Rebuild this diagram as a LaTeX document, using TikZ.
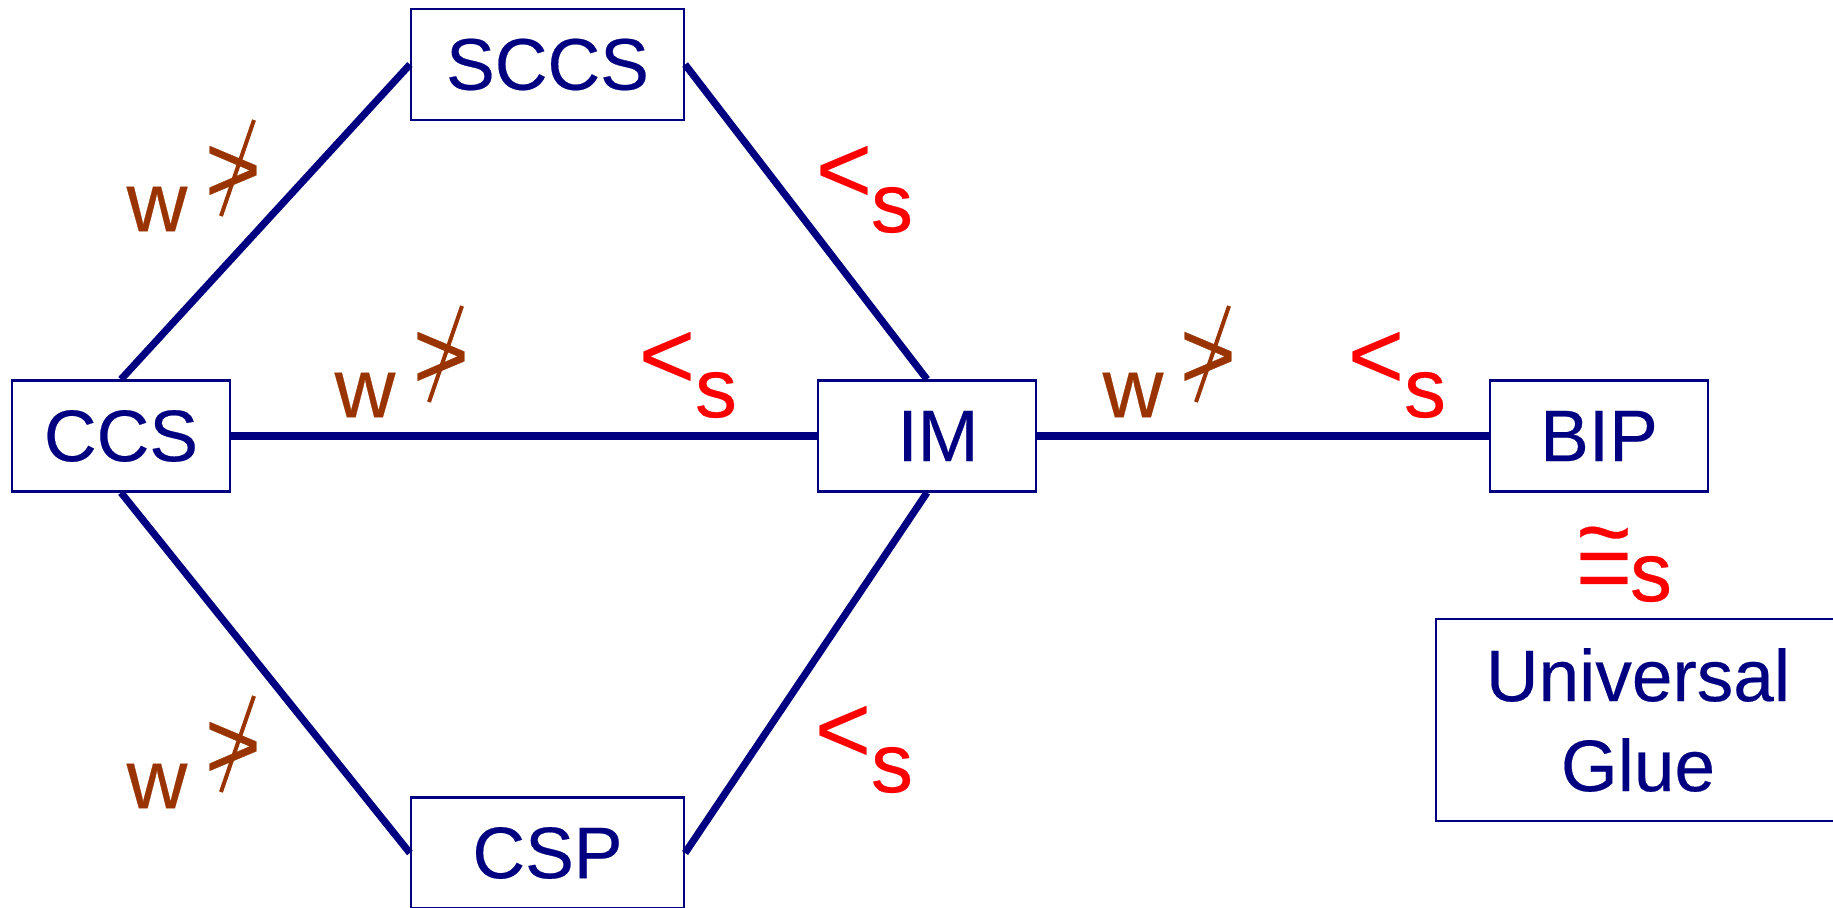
\documentclass[tikz,border=0pt]{standalone}
\usepackage{fontspec}
\setmainfont{Liberation Sans}[FakeBold=0.3]
\definecolor{navy}{RGB}{0,0,128}
\definecolor{rust}{RGB}{153,51,0}

\begin{document}
\begin{tikzpicture}[x=0.5pt, y=-0.5pt,
    box/.style={draw=navy, line width=1.1pt, text=navy, inner sep=0pt, minimum height=55.5pt,
        font=\fontsize{36.5}{45}\selectfont},
    link/.style={navy, line width=3.6pt},
    letter/.style={inner sep=0pt, font=\fontsize{42}{48}\selectfont},
    rel/.style={inner sep=0pt, font=\fontsize{48}{54}\selectfont},
    cross/.style={rust, line width=2pt}]
    \useasboundingbox (0,0) rectangle (1833,907);

    \node[box, minimum width=136.5pt] (sccs) at (547.5,64.5) {SCCS};
    \node[box, minimum width=109pt] (ccs) at (121,436) {CCS};
    \node[box, minimum width=109pt] (im) at (927,436) {\hspace*{11pt}IM};
    \node[box, minimum width=109pt] (bip) at (1599,436) {BIP};
    \node[box, minimum width=136.5pt] (csp) at (547.5,853) {CSP};
    \node[box, minimum width=202pt, minimum height=101pt, align=center] (glue) at (1638,720) {Universal\\Glue};

    \draw[link] (ccs.north) -- (sccs.west);
    \draw[link] (sccs.east) -- (im.north);
    \draw[link] (ccs.east) -- (im.west);
    \draw[link] (im.east) -- (bip.west);
    \draw[link] (ccs.south) -- (csp.west);
    \draw[link] (im.south) -- (csp.east);

    % weak labels: w with a crossed >
    \node[letter, text=rust] (w1) at (157,209) {w};
    \node[rel, text=rust] (ngt1) at (233,174) {>};
    \draw[cross] ([shift={(-12,42)}]ngt1.center) -- ([shift={(21,-54)}]ngt1.center);
    \node[letter, text=rust] (w2) at (365,395) {w};
    \node[rel, text=rust] (ngt2) at (441,360) {>};
    \draw[cross] ([shift={(-12,42)}]ngt2.center) -- ([shift={(21,-54)}]ngt2.center);
    \node[letter, text=rust] (w3) at (1133,395) {w};
    \node[rel, text=rust] (ngt3) at (1208,360) {>};
    \draw[cross] ([shift={(-12,42)}]ngt3.center) -- ([shift={(21,-54)}]ngt3.center);
    \node[letter, text=rust] (w4) at (157,786) {w};
    \node[rel, text=rust] (ngt4) at (233,750) {>};
    \draw[cross] ([shift={(-12,42)}]ngt4.center) -- ([shift={(21,-54)}]ngt4.center);

    % strong labels
    \node[rel, text=red] (lt1) at (844,174) {<};
    \node[letter, text=red] (s1) at (892,210) {s};
    \node[rel, text=red] (lt2) at (667,360) {<};
    \node[letter, text=red] (s2) at (716,395) {s};
    \node[rel, text=red] (lt3) at (1376,360) {<};
    \node[letter, text=red] (s3) at (1425,395) {s};
    \node[rel, text=red] (lt4) at (843,734) {<};
    \node[letter, text=red] (s4) at (892,770) {s};
    \node[rel, text=red, anchor=base] (iso) at (1604,600)
        {\ooalign{\hfil\raisebox{0.37em}{\char`\~}\hfil\cr=\cr}};
    \node[letter, text=red] (s5) at (1651,579) {s};
\end{tikzpicture}
\end{document}
